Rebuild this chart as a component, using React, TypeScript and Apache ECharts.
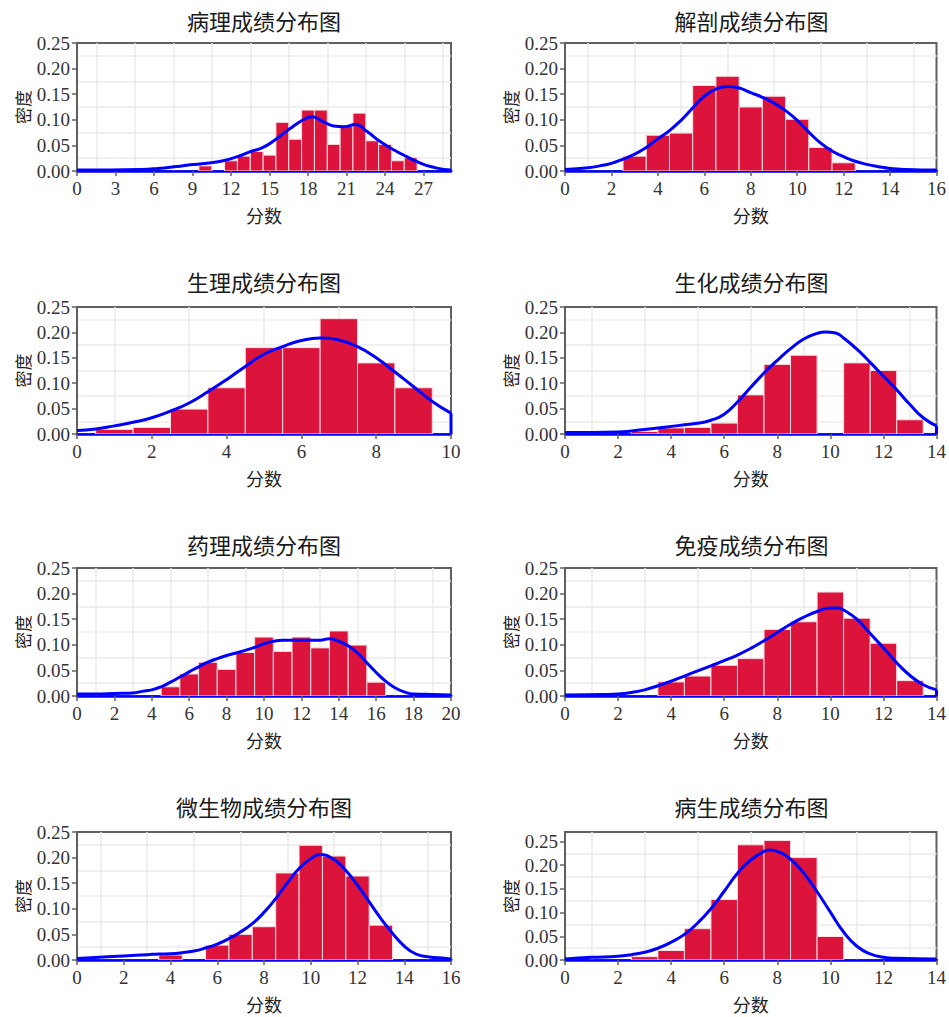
import React, { useEffect, useRef } from "react";
import * as echarts from "echarts";

// ---- chart data ----
const titles = [
  "病理成绩分布图",
  "解剖成绩分布图",
  "生理成绩分布图",
  "生化成绩分布图",
  "药理成绩分布图",
  "免疫成绩分布图",
  "微生物成绩分布图",
  "病生成绩分布图",
];
const xAxisName = "分数";
const yAxisName = "密度";
const xMaxValues = [29.14, 16, 10, 14, 20, 14, 16, 14];
const xIntervals = [3, 2, 2, 2, 2, 2, 2, 2];
const yMaxValues = [0.25, 0.25, 0.25, 0.25, 0.25, 0.25, 0.25, 0.27];
const yInterval = 0.05;

// histogram bins: [bin centre, density]
const pathologyHist = [[10, 0.010], [12, 0.020], [13, 0.029], [14, 0.038], [15, 0.031], [16, 0.095], [17, 0.062], [18, 0.119], [19, 0.119], [20, 0.052], [21, 0.087], [22, 0.113], [23, 0.059], [24, 0.052], [25, 0.020], [26, 0.026]];
const anatomyHist = [[3, 0.029], [4, 0.070], [5, 0.074], [6, 0.167], [7, 0.185], [8, 0.125], [9, 0.146], [10, 0.101], [11, 0.046], [12, 0.016]];
const physiologyHist = [[1, 0.009], [2, 0.013], [3, 0.049], [4, 0.091], [5, 0.170], [6, 0.170], [7, 0.227], [8, 0.140], [9, 0.091]];
const biochemHist = [[3, 0.005], [4, 0.012], [5, 0.013], [6, 0.0215], [7, 0.077], [8, 0.137], [9, 0.155], [11, 0.140], [12, 0.125], [13, 0.028]];
const pharmacologyHist = [[5, 0.018], [6, 0.043], [7, 0.066], [8, 0.052], [9, 0.085], [10, 0.115], [11, 0.087], [12, 0.115], [13, 0.094], [14, 0.127], [15, 0.0995], [16, 0.027]];
const immunologyHist = [[4, 0.0275], [5, 0.039], [6, 0.060], [7, 0.073], [8, 0.130], [9, 0.145], [10, 0.203], [11, 0.152], [12, 0.103], [13, 0.030]];
const microbiologyHist = [[4, 0.0097], [6, 0.029], [7, 0.050], [8, 0.065], [9, 0.170], [10, 0.224], [11, 0.203], [12, 0.164], [13, 0.068]];
const pathophysiologyHist = [[3, 0.007], [4, 0.020], [5, 0.066], [6, 0.1275], [7, 0.243], [8, 0.252], [9, 0.216], [10, 0.0496]];

// density curves: [score, density]
const pathologyKde = [[0, 0.002], [5, 0.003], [6.3, 0.005], [7.8, 0.009], [8.8, 0.012], [10.1, 0.015], [11.3, 0.0195], [12.5, 0.028], [13.5, 0.038], [14.5, 0.046], [15.6, 0.064], [16.6, 0.083], [17.7, 0.101], [18.3, 0.106], [19.2, 0.096], [20, 0.088], [20.8, 0.0865], [21.7, 0.091], [22.6, 0.077], [23.65, 0.057], [24.7, 0.041], [25.7, 0.028], [26.8, 0.015], [27.8, 0.007], [28.6, 0.003], [29.14, 0.002]];
const anatomyKde = [[0, 0.003], [1, 0.0065], [1.5, 0.01], [2, 0.015], [2.5, 0.023], [3, 0.033], [3.5, 0.046], [4, 0.063], [4.5, 0.079], [5, 0.099], [5.5, 0.123], [6, 0.146], [6.5, 0.16], [7, 0.165], [7.5, 0.162], [8, 0.153], [8.5, 0.144], [9, 0.1325], [9.5, 0.118], [10, 0.099], [10.5, 0.076], [11, 0.055], [11.5, 0.039], [12, 0.028], [12.5, 0.019], [13, 0.013], [13.5, 0.0085], [14, 0.005], [14.7, 0.003], [16, 0.002]];
const physiologyKde = [[0, 0.007], [0.5, 0.010], [1, 0.016], [1.5, 0.023], [2, 0.032], [2.5, 0.045], [3, 0.061], [3.5, 0.083], [4, 0.107], [4.5, 0.133], [5, 0.157], [5.5, 0.172], [6, 0.184], [6.5, 0.189], [7, 0.185], [7.5, 0.172], [8, 0.150], [8.5, 0.122], [9, 0.093], [9.5, 0.064], [10, 0.041]];
const biochemKde = [[0, 0.003], [2, 0.004], [2.5, 0.006], [3, 0.009], [3.5, 0.012], [4, 0.015], [4.5, 0.018], [5, 0.021], [5.5, 0.027], [6, 0.039], [6.5, 0.063], [7, 0.092], [7.5, 0.12], [8, 0.145], [8.5, 0.168], [9, 0.187], [9.5, 0.198], [9.8, 0.201], [10.2, 0.199], [10.5, 0.189], [11, 0.167], [11.5, 0.141], [12, 0.114], [12.5, 0.087], [13, 0.058], [13.5, 0.032], [14, 0.016]];
const pharmacologyKde = [[0, 0.004], [1, 0.004], [2, 0.005], [3, 0.006], [3.5, 0.009], [4, 0.012], [4.5, 0.018], [5, 0.027], [5.5, 0.037], [6, 0.047], [6.5, 0.057], [7, 0.066], [7.5, 0.073], [8, 0.079], [8.5, 0.084], [9, 0.089], [9.5, 0.095], [10, 0.102], [10.5, 0.107], [11, 0.109], [12, 0.109], [13, 0.109], [13.5, 0.112], [14, 0.107], [14.5, 0.098], [15, 0.084], [15.5, 0.065], [16, 0.046], [16.5, 0.029], [17, 0.016], [17.5, 0.008], [18, 0.004], [19, 0.003], [20, 0.002]];
const immunologyKde = [[0, 0.002], [1.5, 0.003], [2, 0.004], [2.5, 0.007], [3, 0.012], [3.5, 0.02], [4, 0.029], [4.5, 0.039], [5, 0.049], [5.5, 0.059], [6, 0.069], [6.5, 0.080], [7, 0.093], [7.5, 0.108], [8, 0.124], [8.5, 0.140], [9, 0.154], [9.5, 0.165], [10, 0.172], [10.3, 0.172], [10.5, 0.168], [11, 0.15], [11.5, 0.122], [12, 0.094], [12.5, 0.065], [13, 0.04], [13.5, 0.022], [14, 0.012]];
const microbiologyKde = [[0, 0.003], [0.6, 0.0045], [2, 0.008], [3, 0.0104], [3.5, 0.0117], [4, 0.0123], [4.5, 0.0143], [5, 0.0175], [5.5, 0.0234], [6, 0.031], [6.5, 0.0416], [7, 0.055], [7.5, 0.071], [8, 0.093], [8.5, 0.12], [9, 0.1506], [9.5, 0.1786], [10, 0.198], [10.4, 0.206], [11, 0.196], [11.5, 0.175], [12, 0.146], [12.5, 0.1136], [13, 0.081], [13.5, 0.052], [14, 0.0273], [14.5, 0.0117], [15, 0.0065], [15.8, 0.003], [16, 0.002]];
const pathophysiologyKde = [[0, 0.002], [1, 0.0057], [2, 0.0078], [2.5, 0.0113], [3, 0.0163], [3.5, 0.0248], [4, 0.0375], [4.5, 0.054], [5, 0.078], [5.5, 0.108], [6, 0.145], [6.5, 0.183], [7, 0.211], [7.5, 0.229], [7.7, 0.232], [8, 0.229], [8.5, 0.2125], [9, 0.183], [9.5, 0.144], [10, 0.101], [10.5, 0.059], [11, 0.029], [11.5, 0.0127], [12, 0.0057], [12.5, 0.0035], [14, 0.002]];

const histograms = [pathologyHist, anatomyHist, physiologyHist, biochemHist, pharmacologyHist, immunologyHist, microbiologyHist, pathophysiologyHist];
const densityCurves = [pathologyKde, anatomyKde, physiologyKde, biochemKde, pharmacologyKde, immunologyKde, microbiologyKde, pathophysiologyKde];

// ---- layout ----
const colLeft = [77, 565];
const colWidth = [374, 373];
const rowTop = [43, 307, 568, 832];
const rowHeight = [128, 127, 128, 128];
const titleTop = [9, 270, 533, 795];

const BAR_COLOR = "#DC143C";
const CURVE_COLOR = "#0000FF";
const FRAME_COLOR = "#606060";
const GRID_COLOR = "#ebebeb";
const LABEL_FONT = "'Liberation Serif', 'Times New Roman', serif";
const CJK_FONT = "'Noto Sans CJK SC', 'Noto Sans', sans-serif";

function buildOption() {
  const grid: any[] = [];
  const xAxis: any[] = [];
  const yAxis: any[] = [];
  const title: any[] = [];
  const series: any[] = [];

  titles.forEach((t, i) => {
    const col = i % 2;
    const row = Math.floor(i / 2);
    const left = colLeft[col];
    const width = colWidth[col];
    grid.push({
      left,
      top: rowTop[row],
      width,
      height: rowHeight[row],
      show: true,
      borderColor: FRAME_COLOR,
      borderWidth: 2,
      backgroundColor: "transparent",
    });
    title.push({
      text: t,
      left: left + width / 2,
      top: titleTop[row],
      textAlign: "center",
      padding: 0,
      textStyle: { fontFamily: CJK_FONT, fontSize: 22, fontWeight: "normal", color: "#1a1a1a" },
    });
    const split = {
      splitLine: { show: false },
      minorTick: { show: false, splitNumber: 2 },
      minorSplitLine: { show: true, lineStyle: { color: GRID_COLOR, width: 1.5 } },
    };
    xAxis.push({
      type: "value",
      gridIndex: i,
      min: 0,
      max: xMaxValues[i],
      interval: xIntervals[i],
      ...split,
      axisLine: { show: true, onZero: false, lineStyle: { color: CURVE_COLOR, width: 2.5 } },
      axisTick: { show: true, length: 5, lineStyle: { color: FRAME_COLOR, width: 1.5 } },
      axisLabel: {
        fontFamily: LABEL_FONT,
        fontSize: 19,
        color: "#333",
        margin: 8,
        showMinLabel: true,
        showMaxLabel: xMaxValues[i] % xIntervals[i] === 0,
      },
      name: xAxisName,
      nameLocation: "middle",
      nameGap: 35,
      nameTextStyle: { fontFamily: CJK_FONT, fontSize: 18, color: "#222" },
    });
    yAxis.push({
      type: "value",
      gridIndex: i,
      min: 0,
      max: yMaxValues[i],
      interval: yInterval,
      ...split,
      axisLine: { show: true, onZero: false, lineStyle: { color: FRAME_COLOR, width: 2 } },
      axisTick: { show: true, length: 5, lineStyle: { color: FRAME_COLOR, width: 1.5 } },
      axisLabel: {
        fontFamily: LABEL_FONT,
        fontSize: 19,
        color: "#333",
        margin: 7,
        showMinLabel: true,
        showMaxLabel: Math.abs(Math.round(yMaxValues[i] / yInterval) * yInterval - yMaxValues[i]) < 1e-9,
        formatter: (v: number) => v.toFixed(2),
      },
      name: yAxisName,
      nameLocation: "middle",
      nameRotate: 90,
      nameGap: 46,
      nameTextStyle: { fontFamily: CJK_FONT, fontSize: 17, color: "#222" },
    });

    series.push({
      type: "custom",
      xAxisIndex: i,
      yAxisIndex: i,
      clip: true,
      z: 2,
      data: histograms[i],
      encode: { x: 0, y: 1 },
      renderItem: (params: any, api: any) => {
        const x = api.value(0);
        const y = api.value(1);
        const p0 = api.coord([x - 0.5, y]);
        const p1 = api.coord([x + 0.5, 0]);
        return {
          type: "rect",
          shape: { x: p0[0], y: p0[1], width: p1[0] - p0[0], height: p1[1] - p0[1] },
          style: { fill: BAR_COLOR, stroke: "#f7dde2", lineWidth: 1 },
        };
      },
    });
    const curve = densityCurves[i];
    series.push({
      type: "line",
      xAxisIndex: i,
      yAxisIndex: i,
      data: curve,
      smooth: 0.5,
      symbol: "none",
      z: 4,
      lineStyle: { color: CURVE_COLOR, width: 3 },
      clip: true,
    });
    const last = curve[curve.length - 1];
    series.push({
      type: "line",
      xAxisIndex: i,
      yAxisIndex: i,
      data: [last, [last[0], 0]],
      symbol: "none",
      z: 4,
      lineStyle: { color: CURVE_COLOR, width: 3 },
      clip: false,
    });
  });

  return { animation: false, backgroundColor: "#ffffff", title, grid, xAxis, yAxis, series };
}

export default function App() {
  const ref = useRef<HTMLDivElement>(null);
  useEffect(() => {
    if (!ref.current) return;
    const chart = echarts.init(ref.current, undefined, { renderer: "svg" });
    chart.setOption(buildOption() as any);
    return () => chart.dispose();
  }, []);
  return (
    <div
      ref={ref}
      style={{ position: "absolute", left: 0, top: 0, width: 949, height: 1017, background: "#fff" }}
    />
  );
}
